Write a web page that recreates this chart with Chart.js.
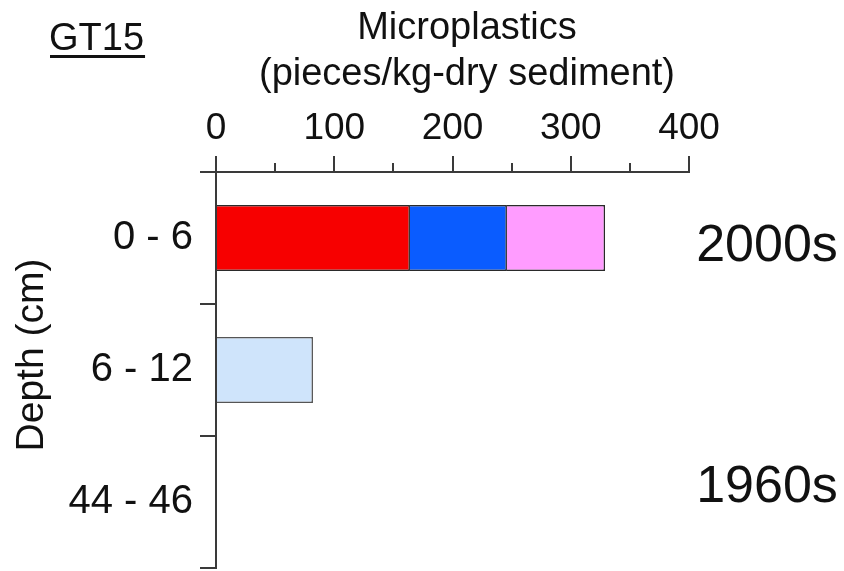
<!DOCTYPE html>
<html><head><meta charset="utf-8">
<script src="https://cdn.jsdelivr.net/npm/chart.js@4"></script>
<style>html,body{margin:0;padding:0;background:#fff}#wrap{width:844px;height:571px}</style>
</head><body><div id="wrap"><canvas id="c" width="844" height="571"></canvas></div>
<script>
const depthLabels = ['0 - 6', '6 - 12', '44 - 46'];
const redValues = [164, null, null];
const blueValues = [82, null, null];
const pinkValues = [83, null, null];
const lightBlueValues = [null, 82, null];
const xTickValues = [0, 100, 200, 300, 400];
const xMinorTickValues = [50, 150, 250, 350];
const siteLabel = 'GT15';
const xTitleLines = ['Microplastics', '(pieces/kg-dry sediment)'];
const yTitle = 'Depth (cm)';
const periodLabels = ['2000s', '1960s'];

const FONT = '"Liberation Sans", Arial, Helvetica, sans-serif';
const AXIS = '#3a3a3a';

const annot = {
  id: 'annot',
  afterDraw(chart) {
    const c = chart.ctx, xs = chart.scales.x;
    c.save();
    // minor ticks on the top axis
    c.strokeStyle = AXIS; c.lineWidth = 2;
    xMinorTickValues.forEach(v => {
      const px = Math.round(xs.getPixelForValue(v));
      c.beginPath(); c.moveTo(px, xs.bottom); c.lineTo(px, xs.bottom - 9); c.stroke();
    });
    c.fillStyle = '#111';
    // site label, underlined
    c.font = '38px ' + FONT;
    c.textAlign = 'left'; c.textBaseline = 'alphabetic';
    c.fillText(siteLabel, 49, 50);
    const w = c.measureText(siteLabel).width;
    c.fillRect(50, 55, w, 3);
    // x-axis title
    c.textAlign = 'center';
    c.font = '38px ' + FONT;
    c.fillText(xTitleLines[0], 467, 39);
    c.fillText(xTitleLines[1], 467, 85);
    // y-axis title
    c.save();
    c.translate(43, 355);
    c.rotate(-Math.PI / 2);
    c.font = '39px ' + FONT;
    c.fillText(yTitle, 0, 0);
    c.restore();
    // period labels
    c.font = '52px ' + FONT;
    c.textAlign = 'center';
    c.fillText(periodLabels[0], 767, 261);
    c.fillText(periodLabels[1], 767, 502);
    c.restore();
  }
};

new Chart(document.getElementById('c'), {
  type: 'bar',
  data: {
    labels: depthLabels,
    datasets: [
      { label: 'Series 1', data: redValues, backgroundColor: '#f70000', borderColor: '#2a2a2a', borderWidth: 1.5 },
      { label: 'Series 2', data: blueValues, backgroundColor: '#0a5cff', borderColor: '#2a2a2a', borderWidth: 1.5 },
      { label: 'Series 3', data: pinkValues, backgroundColor: '#ff9cff', borderColor: '#2a2a2a', borderWidth: 1.5 },
      { label: 'Series 4', data: lightBlueValues, backgroundColor: '#cfe4fb', borderColor: '#555', borderWidth: 1.5 }
    ]
  },
  options: {
    indexAxis: 'y',
    responsive: false,
    animation: false,
    layout: { padding: { left: 0, right: 155, top: 0, bottom: 3 } },
    datasets: { bar: { barPercentage: 0.5, categoryPercentage: 1 } },
    plugins: { legend: { display: false }, tooltip: { enabled: false }, title: { display: false } },
    scales: {
      x: {
        position: 'top', min: 0, max: 400, stacked: true,
        afterBuildTicks: s => { s.ticks = xTickValues.map(v => ({ value: v })); },
        ticks: { font: { family: FONT, size: 37 }, color: '#111', padding: 5, maxRotation: 0, autoSkip: false },
        grid: { drawOnChartArea: false, tickLength: 16, color: AXIS, lineWidth: 2 },
        border: { color: AXIS, width: 2 },
        afterFit: s => { s.height = 172; s.paddingLeft = 0; s.paddingRight = 0; }
      },
      y: {
        stacked: true, offset: true,
        ticks: { font: { family: FONT, size: 40 }, color: '#111', padding: 7 },
        grid: { offset: true, drawOnChartArea: false, tickLength: 16, color: AXIS, lineWidth: 2 },
        border: { color: AXIS, width: 2 },
        afterFit: s => { s.width = 216; s.paddingTop = 0; s.paddingBottom = 0; }
      }
    }
  },
  plugins: [annot]
});
</script>
</body></html>
